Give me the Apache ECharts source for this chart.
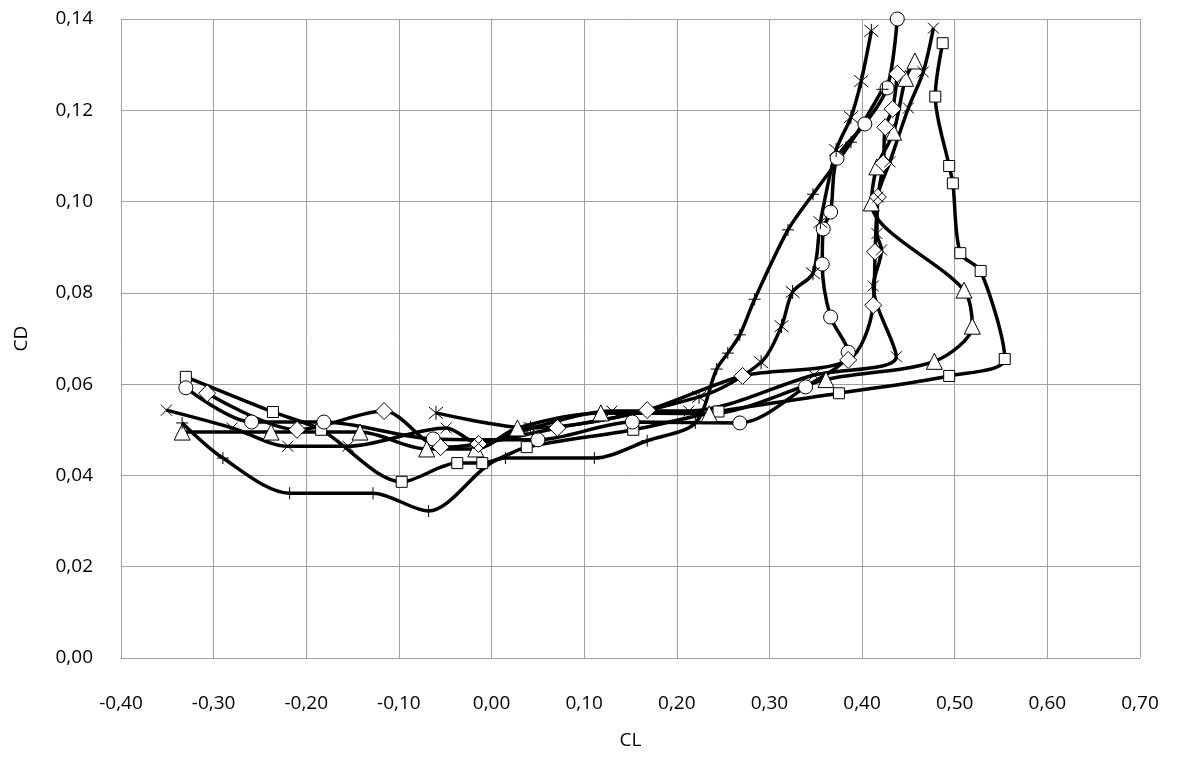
<!DOCTYPE html>
<html>
<head>
<meta charset="utf-8">
<script src="https://cdn.jsdelivr.net/npm/echarts@6/dist/echarts.min.js"></script>
<style>
  html, body { margin: 0; padding: 0; background: #fff; }
  #main { width: 1177px; height: 760px; }
</style>
</head>
<body>
<div id="main"></div>
<script>
// CL / CD values, one pair of arrays per marker
var squareCL = [-0.330, -0.236, -0.184, -0.097, -0.037, -0.010, 0.038, 0.153, 0.245, 0.375, 0.494, 0.554, 0.528, 0.506, 0.498, 0.494, 0.479, 0.487];
var squareCD = [0.0616, 0.0539, 0.0500, 0.0386, 0.0427, 0.0427, 0.0462, 0.0500, 0.0540, 0.0580, 0.0618, 0.0655, 0.0848, 0.0887, 0.1040, 0.1078, 0.1230, 0.1347];

var circleCL = [-0.330, -0.259, -0.181, -0.063, 0.050, 0.152, 0.268, 0.339, 0.385, 0.366, 0.357, 0.358, 0.366, 0.373, 0.403, 0.427, 0.438];
var circleCD = [0.0592, 0.0517, 0.0517, 0.0480, 0.0478, 0.0517, 0.0515, 0.0594, 0.0670, 0.0747, 0.0863, 0.0940, 0.0977, 0.1095, 0.1170, 0.1249, 0.1400];

var triangleCL = [-0.334, -0.238, -0.142, -0.070, -0.017, 0.028, 0.118, 0.235, 0.361, 0.478, 0.519, 0.510, 0.410, 0.416, 0.434, 0.447, 0.457];
var triangleCD = [0.0495, 0.0495, 0.0495, 0.0458, 0.0458, 0.0504, 0.0537, 0.0535, 0.0610, 0.0650, 0.0727, 0.0806, 0.0997, 0.1076, 0.1152, 0.1270, 0.1308];

var diamondCL = [-0.307, -0.210, -0.116, -0.055, -0.014, 0.071, 0.168, 0.271, 0.385, 0.412, 0.414, 0.417, 0.423, 0.425, 0.433, 0.438];
var diamondCD = [0.0580, 0.0500, 0.0541, 0.0462, 0.0469, 0.0504, 0.0543, 0.0618, 0.0653, 0.0773, 0.0890, 0.1010, 0.1084, 0.1163, 0.1203, 0.1280];

var crossCL = [-0.351, -0.280, -0.220, -0.155, -0.049, -0.014, 0.043, 0.130, 0.213, 0.348, 0.437, 0.412, 0.421, 0.416, 0.417, 0.430, 0.450, 0.466, 0.477];
var crossCD = [0.0543, 0.0504, 0.0464, 0.0464, 0.0504, 0.0470, 0.0504, 0.0541, 0.0541, 0.0620, 0.0660, 0.0815, 0.0894, 0.0930, 0.1010, 0.1087, 0.1205, 0.1284, 0.1380];

var starCL = [-0.060, 0.042, 0.224, 0.291, 0.313, 0.325, 0.347, 0.355, 0.372, 0.388, 0.399, 0.410];
var starCD = [0.0537, 0.0504, 0.0572, 0.0648, 0.0727, 0.0802, 0.0843, 0.0955, 0.1113, 0.1185, 0.1264, 0.1374];

var plusCL = [-0.334, -0.290, -0.218, -0.128, -0.068, 0.015, 0.111, 0.168, 0.220, 0.243, 0.255, 0.268, 0.284, 0.320, 0.347, 0.388, 0.422];
var plusCD = [0.0515, 0.0438, 0.0361, 0.0361, 0.0322, 0.0438, 0.0438, 0.0476, 0.0515, 0.0633, 0.0668, 0.0708, 0.0786, 0.0938, 0.1016, 0.1130, 0.1246];

var FONT = 'Open Sans';
var FS = 19;

function pairs(xs, ys) {
    return xs.map(function (x, i) { return [x, ys[i]]; });
}
function fmt(v) {
    return v.toFixed(2).replace('.', ',');
}

// excel-ish markers: white fill, thin black outline
function curve(name, xs, ys, symbol, size) {
    return {
        name: name,
        type: 'line',
        smooth: 0.3,
        data: pairs(xs, ys),
        symbol: symbol,
        symbolSize: size,
        showAllSymbol: true,
        lineStyle: { color: '#000', width: 3.5 },
        itemStyle: { color: '#fff', borderColor: '#000', borderWidth: 1 }
    };
}

var chart = echarts.init(document.getElementById('main'));
var option = {
    animation: false,
    backgroundColor: '#fff',
    grid: { left: 121, right: 37, top: 19, bottom: 102 },
    xAxis: {
        type: 'value',
        min: -0.4, max: 0.7, interval: 0.1,
        name: 'CL', nameLocation: 'middle', nameGap: 73,
        nameTextStyle: { color: '#000', fontSize: FS, fontFamily: FONT },
        axisLine: { show: true, onZero: false, lineStyle: { color: '#a0a0a0' } },
        axisTick: { show: false },
        axisLabel: { color: '#000', fontSize: FS, fontFamily: FONT, margin: 36, formatter: fmt },
        splitLine: { show: true, lineStyle: { color: '#a0a0a0', width: 1 } }
    },
    yAxis: {
        type: 'value',
        min: 0, max: 0.14, interval: 0.02,
        name: 'CD', nameLocation: 'middle', nameGap: 90, nameRotate: 90,
        nameTextStyle: { color: '#000', fontSize: FS, fontFamily: FONT },
        axisLine: { show: true, lineStyle: { color: '#a0a0a0' } },
        axisTick: { show: false },
        axisLabel: { color: '#000', fontSize: FS, fontFamily: FONT, margin: 28, formatter: fmt },
        splitLine: { show: true, lineStyle: { color: '#a0a0a0', width: 1 } }
    },
    series: [
        curve('square', squareCL, squareCD, 'rect', 11),
        curve('circle', circleCL, circleCD, 'circle', 14),
        curve('triangle', triangleCL, triangleCD, 'triangle', 16),
        curve('diamond', diamondCL, diamondCD, 'diamond', 17),
        curve('cross', crossCL, crossCD, 'path://M0,0L10,10M10,0L0,10', 11),
        curve('star', starCL, starCD, 'path://M0,0L10,10M10,0L0,10M5,-1L5,11', 14),
        curve('plus', plusCL, plusCD, 'path://M5,0L5,10M0,5L10,5', 12)
    ]
};
chart.setOption(option);
</script>
</body>
</html>
